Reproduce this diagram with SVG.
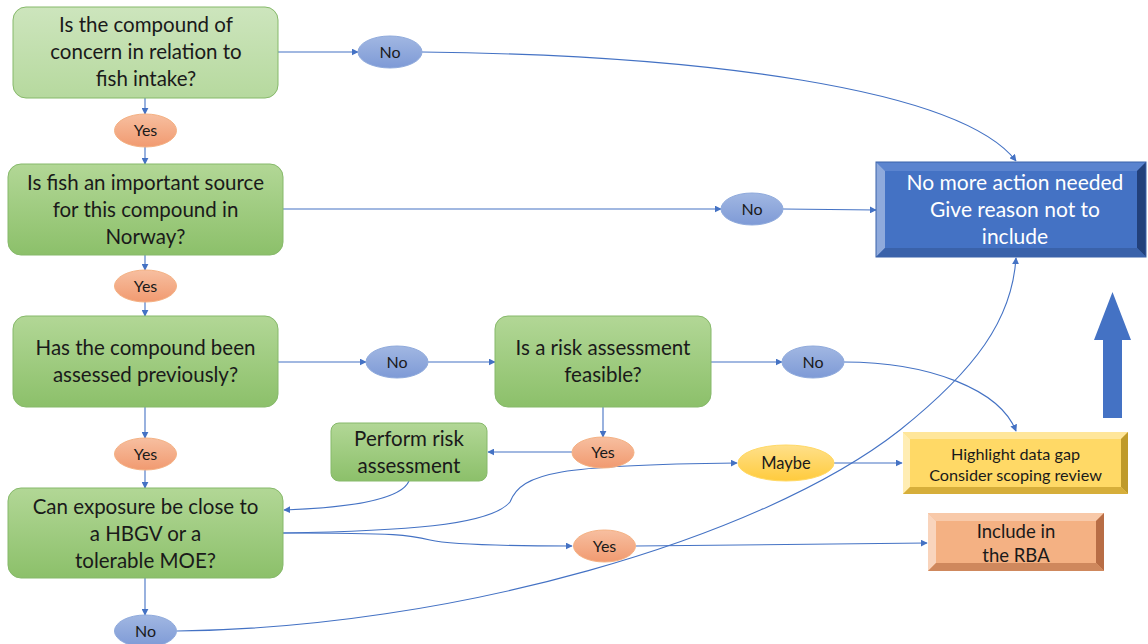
<svg xmlns="http://www.w3.org/2000/svg" width="1148" height="644" viewBox="0 0 1148 644">
<defs>
<linearGradient id="gLight" x1="0" y1="0" x2="0" y2="1"><stop offset="0" stop-color="#CDE5BD"/><stop offset="1" stop-color="#B6D99E"/></linearGradient>
<linearGradient id="gGreen" x1="0" y1="0" x2="0" y2="1"><stop offset="0" stop-color="#B2D796"/><stop offset="1" stop-color="#8CC06A"/></linearGradient>
<linearGradient id="gYes" x1="0" y1="0" x2="0" y2="1"><stop offset="0" stop-color="#F7BFA0"/><stop offset="1" stop-color="#F19A70"/></linearGradient>
<linearGradient id="gNo" x1="0" y1="0" x2="0" y2="1"><stop offset="0" stop-color="#A1B7E2"/><stop offset="1" stop-color="#7E9AD6"/></linearGradient>
<linearGradient id="gMaybe" x1="0" y1="0" x2="0" y2="1"><stop offset="0" stop-color="#FFE08A"/><stop offset="1" stop-color="#FFCB3D"/></linearGradient>
<marker id="arr" viewBox="0 0 10 10" refX="9" refY="5" markerWidth="7" markerHeight="7" markerUnits="userSpaceOnUse" orient="auto"><path d="M0,0 L10,5 L0,10 z" fill="#4472C4"/></marker>
<style>
.q{stroke:#86B96A;stroke-width:1}
.t{font-family:Lato,"Open Sans","Liberation Sans",sans-serif;font-size:20.5px;fill:#1a1a1a;text-anchor:middle}
.s{font-family:Lato,"Open Sans","Liberation Sans",sans-serif;font-size:16px;fill:#1a1a1a;text-anchor:middle}
.w{fill:#ffffff}
.c{fill:none;stroke:#4472C4;stroke-width:1.1;marker-end:url(#arr)}
.eY{fill:url(#gYes);stroke:#F4B183;stroke-width:1}
.eN{fill:url(#gNo);stroke:#8FAADC;stroke-width:1}
</style>
</defs>

<g id="connectors">
<line class="c" x1="145" y1="98" x2="145" y2="114"/>
<line class="c" x1="145" y1="147" x2="145" y2="164"/>
<line class="c" x1="145" y1="255" x2="145" y2="270"/>
<line class="c" x1="145" y1="302" x2="145" y2="316"/>
<line class="c" x1="145" y1="407" x2="145" y2="438"/>
<line class="c" x1="145" y1="470" x2="145" y2="488"/>
<line class="c" x1="145" y1="578" x2="145" y2="615"/>
<line class="c" x1="278" y1="52" x2="358" y2="52"/>
<path class="c" d="M422,52 C700,55 960,88 1016,161"/>
<line class="c" x1="283" y1="209" x2="721" y2="209"/>
<line class="c" x1="783" y1="209" x2="876" y2="210"/>
<line class="c" x1="278" y1="362" x2="366" y2="362"/>
<line class="c" x1="428" y1="362" x2="495" y2="362"/>
<line class="c" x1="711" y1="362" x2="782" y2="362"/>
<path class="c" d="M844,362 C930,362 1000,390 1016,431"/>
<line class="c" x1="603" y1="407" x2="603" y2="437"/>
<line class="c" x1="572" y1="452" x2="488" y2="452"/>
<path class="c" d="M409,481 C400,502 340,508 284,510"/>
<path class="c" d="M283,533 C400,531 490,526 510,502 C522,472 560,465 737,463"/>
<line class="c" x1="834" y1="463" x2="902" y2="463"/>
<path class="c" d="M283,533 C400,533 410,535 430,540 C452,545 500,546 572,546"/>
<line class="c" x1="636" y1="546" x2="927" y2="543"/>
<path class="c" d="M177,631 C450,628 760,540 900,430 C975,370 1012,320 1016,258"/>
</g>

<g id="box1"><rect class="q" x="13" y="7" width="265" height="91" rx="13" fill="url(#gLight)"/>
<text class="t" x="146" y="32">Is the compound of</text><text class="t" x="146" y="59">concern in relation to</text><text class="t" x="146" y="86">fish intake?</text></g>

<g id="yes1"><ellipse class="eY" cx="145.5" cy="130.5" rx="31" ry="16.5"/><text class="s" x="145.5" y="136">Yes</text></g>
<g id="no1"><ellipse class="eN" cx="390" cy="52" rx="32" ry="16"/><text class="s" x="390" y="57.5">No</text></g>

<g id="box2"><rect class="q" x="8" y="164" width="275" height="91" rx="13" fill="url(#gGreen)"/>
<text class="t" x="145.5" y="190">Is fish an important source</text><text class="t" x="145.5" y="217">for this compound in</text><text class="t" x="145.5" y="244">Norway?</text></g>

<g id="no2"><ellipse class="eN" cx="752" cy="209" rx="31" ry="16"/><text class="s" x="752" y="214.5">No</text></g>
<g id="yes2"><ellipse class="eY" cx="145.5" cy="286" rx="31" ry="16"/><text class="s" x="145.5" y="291.5">Yes</text></g>

<g id="box3"><rect class="q" x="13" y="316" width="265" height="91" rx="13" fill="url(#gGreen)"/>
<text class="t" x="145.5" y="355">Has the compound been</text><text class="t" x="145.5" y="382">assessed previously?</text></g>

<g id="no3"><ellipse class="eN" cx="397" cy="362" rx="31" ry="16"/><text class="s" x="397" y="367.5">No</text></g>

<g id="box4"><rect class="q" x="495" y="316" width="216" height="91" rx="13" fill="url(#gGreen)"/>
<text class="t" x="603" y="355">Is a risk assessment</text><text class="t" x="603" y="382">feasible?</text></g>

<g id="no4"><ellipse class="eN" cx="813" cy="362" rx="31" ry="16"/><text class="s" x="813" y="367.5">No</text></g>
<g id="yes3"><ellipse class="eY" cx="603" cy="452.5" rx="31" ry="15.5"/><text class="s" x="603" y="458">Yes</text></g>

<g id="perform"><rect class="q" x="331" y="423" width="156" height="58" rx="8" fill="url(#gGreen)"/>
<text class="t" x="409" y="446">Perform risk</text><text class="t" x="409" y="473">assessment</text></g>

<g id="yes4"><ellipse class="eY" cx="145.5" cy="454" rx="31" ry="16"/><text class="s" x="145.5" y="459.5">Yes</text></g>

<g id="box5"><rect class="q" x="8" y="488" width="275" height="90" rx="13" fill="url(#gGreen)"/>
<text class="t" x="145.5" y="514">Can exposure be close to</text><text class="t" x="145.5" y="541">a HBGV or a</text><text class="t" x="145.5" y="568">tolerable MOE?</text></g>

<g id="no5"><ellipse class="eN" cx="145.5" cy="631" rx="31" ry="16"/><text class="s" x="145.5" y="636.5">No</text></g>
<g id="maybe"><ellipse cx="786" cy="463" rx="48" ry="18" fill="url(#gMaybe)" stroke="#FFD966"/><text class="s" x="786" y="468.5" style="font-size:16.5px">Maybe</text></g>
<g id="yes5"><ellipse class="eY" cx="604.5" cy="546" rx="31" ry="16"/><text class="s" x="604.5" y="551.5">Yes</text></g>

<g id="noaction">
<rect x="876" y="162" width="270" height="95" fill="#4472C4"/>
<polygon points="876,162 1146,162 1137,171 885,171" fill="#5B84CF"/>
<polygon points="876,162 885,171 885,248 876,257" fill="#8FAADC"/>
<polygon points="1146,162 1146,257 1137,248 1137,171" fill="#22407A"/>
<polygon points="876,257 885,248 1137,248 1146,257" fill="#3A62AA"/>
<rect x="876" y="162" width="270" height="95" fill="none" stroke="#3A62AA" stroke-width="1"/>
<text class="t w" x="1015" y="190" style="font-size:21px">No more action needed</text><text class="t w" x="1015" y="217" style="font-size:21px">Give reason not to</text><text class="t w" x="1015" y="244" style="font-size:21px">include</text></g>

<g id="bigarrow"><polygon points="1112.5,292 1131,340 1122,340 1122,418 1103,418 1103,340 1094,340" fill="#4472C4"/></g>

<g id="datagap">
<rect x="903" y="432" width="225" height="62" fill="#FFD966"/>
<polygon points="903,432 1128,432 1121,439 910,439" fill="#FFE69A"/>
<polygon points="903,432 910,439 910,487 903,494" fill="#FFEDB3"/>
<polygon points="1128,432 1128,494 1121,487 1121,439" fill="#BF9A2A"/>
<polygon points="903,494 910,487 1121,487 1128,494" fill="#D6AE3A"/>
<text class="s" x="1015.5" y="460" style="font-size:16.2px">Highlight data gap</text><text class="s" x="1015.5" y="481" style="font-size:16.2px">Consider scoping review</text></g>

<g id="include">
<rect x="928" y="513" width="176" height="58" fill="#F4B183"/>
<polygon points="928,513 1104,513 1096,521 936,521" fill="#F8C9A9"/>
<polygon points="928,513 936,521 936,563 928,571" fill="#F9D4BC"/>
<polygon points="1104,513 1104,571 1096,563 1096,521" fill="#B86D45"/>
<polygon points="928,571 936,563 1096,563 1104,571" fill="#CF885D"/>
<text class="t" x="1016" y="538" style="font-size:18.5px">Include in</text><text class="t" x="1016" y="562" style="font-size:18.5px">the RBA</text></g>
</svg>
